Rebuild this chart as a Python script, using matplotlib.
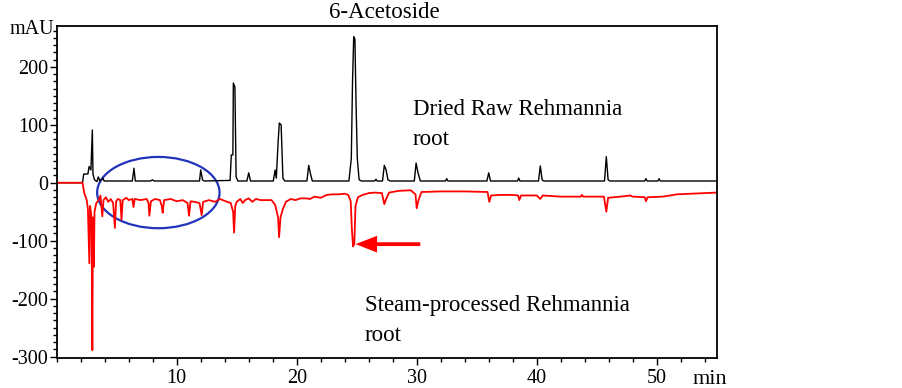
import matplotlib
matplotlib.use("Agg")
import matplotlib.pyplot as plt
from matplotlib.patches import Ellipse
from matplotlib.ticker import MultipleLocator

plt.rcParams['font.family'] = ['Liberation Serif', 'DejaVu Serif']
plt.rcParams['axes.unicode_minus'] = False

# Dried raw Rehmannia root (black trace): retention time (min), absorbance (mAU)
raw_t = [0, 2.15, 2.25, 2.6, 2.7, 2.85, 2.97, 3.02, 3.15, 3.35, 3.47, 3.6, 3.85, 3.95,
         6.3, 6.44, 6.55, 7.8, 8.0, 8.1,
         11.9, 12.0, 12.15, 12.3,
         14.45, 14.55, 14.68, 14.72, 14.85, 14.95, 15.1,
         15.85, 16.0, 16.15,
         18.05, 18.2, 18.3, 18.45, 18.55, 18.7, 18.75, 18.85, 19.0,
         20.85, 21.0, 21.15, 21.3,
         24.35, 24.55, 24.65, 24.75, 24.85, 24.95, 25.05, 25.2, 25.4,
         26.5, 26.6, 26.7,
         27.15, 27.3, 27.45, 27.6, 27.8,
         29.8, 29.95, 30.1, 30.3,
         32.4, 32.5, 32.6,
         35.85, 36.0, 36.15,
         38.4, 38.5, 38.6,
         40.15, 40.3, 40.45, 40.6,
         45.65, 45.8, 45.95, 46.1,
         49.0, 49.1, 49.2,
         50.1, 50.2, 50.3, 55]
raw_mau = [0, 0, 15, 15, 28, 22, 91, 15, 5, 2, 10, 3, 8, 3,
           3, 25, 3, 3, 5, 3,
           3, 22, 5, 3,
           4, 48, 48, 172, 165, 10, 3,
           3, 17, 3,
           3, 22, 8, 70, 103, 100, 70, 8, 3,
           3, 30, 15, 3,
           3, 42, 174, 252, 248, 131, 42, 5, 3,
           3, 6, 3,
           3, 30, 22, 5, 3,
           3, 34, 18, 3,
           3, 7, 3,
           3, 17, 3,
           3, 8, 3,
           3, 29, 5, 3,
           3, 45, 5, 3,
           3, 7, 3,
           3, 7, 3, 3]

# Steam-processed Rehmannia root (red trace)
steam_t = [0, 2.15, 2.3, 2.5, 2.6, 2.72, 2.78, 2.9, 2.97, 3.02, 3.1, 3.15, 3.3, 3.5,
           3.65, 3.8, 3.9, 4.1, 4.3, 4.5, 4.7, 4.85, 4.95, 5.1, 5.3, 5.4, 5.5, 5.8,
           6.0, 6.3, 6.4, 6.5, 7.0, 7.5, 7.65, 7.72, 7.85, 8.2, 8.6, 8.75, 8.83, 8.95,
           9.5, 10.0, 10.5, 10.9, 11.03, 11.15, 11.5, 11.9, 12.08, 12.2, 12.7, 13.2,
           13.6, 14.2, 14.5, 14.7, 14.78, 14.88, 15.0, 15.3, 15.5, 15.7, 16.0, 16.3,
           16.6, 17.0, 17.5, 17.9, 18.2, 18.45, 18.53, 18.65, 18.85, 19.1, 19.5, 19.9,
           20.3, 20.8, 21.1, 21.5, 22.0, 22.5, 23.0, 23.5, 24.0, 24.3, 24.5, 24.6,
           24.7, 24.8, 24.9, 25.1, 25.5, 26.0, 26.5, 27.1, 27.3, 27.45, 27.7, 28.5,
           29.5, 29.9, 30.0, 30.15, 30.4, 32.0, 34.0, 35.9, 36.05, 36.2, 37.0, 38.0,
           38.45, 38.55, 38.7, 40.0, 40.3, 40.5, 42.0, 43.7, 43.75, 43.9, 45.6, 45.8,
           45.95, 47.0, 47.8, 48.0, 49.0, 49.1, 49.25, 50.5, 51.7, 52.8, 55]
steam_mau = [0, 0, -18, -30, -45, -139, -40, -60, -289, -60, -145, -50, -35, -30,
             -22, -58, -30, -25, -33, -28, -35, -78, -32, -28, -30, -64, -30, -26,
             -30, -28, -42, -28, -30, -28, -35, -57, -32, -28, -30, -40, -52, -30,
             -28, -32, -30, -35, -57, -32, -33, -35, -56, -33, -30, -33,
             -28, -33, -35, -50, -86, -40, -33, -28, -35, -30, -27, -33,
             -28, -30, -30, -30, -38, -60, -94, -60, -45, -33, -28, -30,
             -27, -27, -28, -24, -26, -21, -20, -20, -19, -21, -32, -82,
             -110, -105, -40, -25, -21, -18, -17, -18, -37, -28, -17, -14,
             -13, -20, -44, -30, -16, -15, -15, -16, -33, -22, -21, -21,
             -22, -30, -22, -22, -28, -22, -24, -24, -21, -24, -24, -50,
             -26, -24, -22, -24, -25, -32, -25, -24, -20, -19, -17]

x_ticks = [10, 20, 30, 40, 50]
y_ticks = [-300, -200, -100, 0, 100, 200]

fig = plt.figure(figsize=(9.03, 3.88), dpi=100)
ax = fig.add_axes([0.0628, 0.0765, 0.7309, 0.8573])

ax.plot(raw_t, raw_mau, color='black', lw=1.0)
ax.plot(steam_t, steam_mau, color='#ff0000', lw=1.3)

# circled region and arrow to the 6-acetoside peak
ax.add_patch(Ellipse((8.47, -17), 10.2, 123, fill=False, edgecolor='#2233bb', lw=1.6))
ax.arrow(30.3, -106, -5.4, 0, width=6.5, head_width=29, head_length=1.8,
         length_includes_head=True, color='#ff0000', lw=0)

ax.set_xlim(0, 55)
ax.set_ylim(-303, 271)
ax.set_xticks(x_ticks)
ax.set_yticks(y_ticks)
ax.xaxis.set_minor_locator(MultipleLocator(2))
ax.yaxis.set_minor_locator(MultipleLocator(12.5))
ax.tick_params(which='major', direction='out', length=5, width=1, labelsize=14.5)
ax.tick_params(which='minor', direction='out', length=3, width=1)
ax.tick_params(axis='y', pad=1)
ax.tick_params(axis='x', pad=3)
for s in ax.spines.values():
    s.set_linewidth(1.3)

fig.text(384 / 903, 1 - 17.5 / 388, '6-Acetoside', ha='center', va='baseline', fontsize=16.5)
fig.text(10 / 903, 1 - 34.5 / 388, 'mAU', ha='left', va='baseline', fontsize=14.5)
fig.text(693 / 903, 1 - 383.5 / 388, 'min', ha='left', va='baseline', fontsize=16)
fig.text(413 / 903, 1 - 115 / 388, 'Dried Raw Rehmannia', ha='left', va='baseline', fontsize=16.5)
fig.text(413 / 903, 1 - 145 / 388, 'root', ha='left', va='baseline', fontsize=16.5)
fig.text(365 / 903, 1 - 311.5 / 388, 'Steam-processed Rehmannia', ha='left', va='baseline', fontsize=16.5)
fig.text(365 / 903, 1 - 341 / 388, 'root', ha='left', va='baseline', fontsize=16.5)

fig.savefig('out.png', dpi=100)
